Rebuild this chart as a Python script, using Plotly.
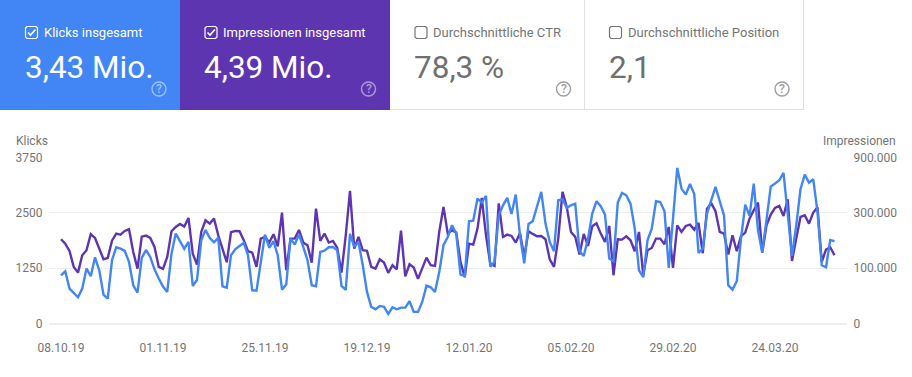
import pandas as pd
import plotly.graph_objects as go

W, H = 912, 377
FONT = "Roboto"
BLUE = "#4285F4"
PURPLE = "#5E35B1"
GREY = "#757575"

start_date = "2019-10-08"
tick_dates = ["2019-10-08", "2019-11-01", "2019-11-25", "2019-12-19", "2020-01-12", "2020-02-05", "2020-02-29", "2020-03-24"]
tick_labels = ["08.10.19", "01.11.19", "25.11.19", "19.12.19", "12.01.20", "05.02.20", "29.02.20", "24.03.20"]
klicks_ticks = [0, 1250, 2500, 3750]
klicks_labels = ["0", "1250", "2500", "3750"]
# the right axis of the original has unevenly stepped labels on evenly spaced gridlines
impressionen_labels = ["0", "100.000", "300.000", "900.000"]

klicks = [1092,1182,791,700,595,791,1242,1069,1498,1205,655,565,1431,1724,1694,1642,1393,866,700,1483,
1664,1506,1227,1017,836,715,1581,2033,1867,1687,1845,851,986,1882,2116,1935,1837,1935,843,813,
1544,1679,1754,1822,1544,753,745,1393,2010,1709,1860,1544,768,881,1920,1785,2010,1732,1431,866,
843,1619,1649,1724,1732,1657,851,761,2026,1732,1845,1318,715,377,324,399,377,218,369,324,
361,361,505,264,264,489,858,821,715,1167,1770,1958,2221,2033,1107,1077,2312,2327,2824,2733,
2884,1288,1393,2447,2673,2839,2477,2914,1995,1363,2251,2312,2673,2974,2259,1845,1634,2786,2809,2613,
2673,2711,1634,1529,1920,2485,2764,2651,2462,1468,1408,2733,2952,2899,2711,2146,1205,1047,1882,2146,
2764,2748,2538,1258,2372,3517,3050,2914,3155,2929,1596,1694,2485,2786,3087,2764,2447,866,768,956,
1920,2688,2432,3163,2108,1604,2372,3095,3163,3238,3404,2507,1529,2221,3035,3366,3185,3260,2523,1318,
1273,1890,1860]

# Impressionen, read as heights on the shared gridlines (same 0-3750 span as the left axis)
impressionen_hoehe = [1905,1807,1642,1280,1152,1544,1657,2018,1935,1694,1453,1483,1875,2033,2010,2093,2131,1619,1242,1965,
1988,1935,1732,1280,1235,1506,2086,2184,2251,2191,2387,1581,1333,2071,2334,2259,2372,1995,1694,1386,
2063,2093,2086,1882,1634,1604,1280,1920,1958,1830,2018,1747,2507,1205,1920,1920,2116,1830,1770,1378,
2598,1867,2033,1830,1867,1709,1152,1995,2997,1694,1958,1657,1642,1280,1242,1453,1378,1145,1318,1227,
2101,1069,1340,1265,1009,1242,1491,1318,1303,2071,2636,2033,2108,2056,1393,1047,1807,1785,2146,2839,
1995,1355,1303,2718,1958,2010,1980,1830,2048,1506,2086,2026,1973,1980,1905,1453,1280,1920,2974,2636,
2071,1958,1559,2026,1754,2199,2267,2033,1845,2206,1092,1905,1898,1973,1882,1634,2071,1092,1657,1709,
1920,1920,1792,2184,1258,2221,2071,2206,2236,2123,2274,1589,2598,2718,2538,2071,2033,1559,1995,1634,
1980,2056,2372,2560,2733,1604,2221,2462,2613,2658,2432,2809,1416,1920,2410,2447,2259,2507,2628,1393,
1672,1724,1544]

card_titles = ["Klicks insgesamt", "Impressionen insgesamt", "Durchschnittliche CTR", "Durchschnittliche Position"]
card_values = ["3,43 Mio.", "4,39 Mio.", "78,3 %", "2,1"]
card_checked = [True, True, False, False]

dates = pd.date_range(start_date, periods=len(klicks), freq="D")


def px(x):
    return x / W


def py(y):
    return 1 - y / H


def P(*pts):
    return "M" + " L".join(f"{px(a):.5f},{py(b):.5f}" for a, b in pts)


fig = go.Figure()
fig.add_trace(go.Scatter(x=dates, y=impressionen_hoehe, mode="lines", yaxis="y", xaxis="x",
                         line=dict(color=PURPLE, width=2.4), name="Impressionen", hoverinfo="skip"))
fig.add_trace(go.Scatter(x=dates, y=klicks, mode="lines", yaxis="y2", xaxis="x",
                         line=dict(color=BLUE, width=2.4), name="Klicks", hoverinfo="skip"))

shapes, ann = [], []


def rect(x0, y0, x1, y1, fill, line=None):
    shapes.append(dict(type="rect", xref="paper", yref="paper", x0=px(x0), x1=px(x1), y0=py(y0), y1=py(y1),
                       fillcolor=fill, line=dict(width=0 if line is None else 1, color=line or fill)))


def text(x, y, s, size, color, anchor="left", weight=400):
    ann.append(dict(xref="paper", yref="paper", x=px(x), y=py(y), text=s, showarrow=False, xanchor=anchor,
                    yanchor="middle", font=dict(family=FONT, size=size, color=color, weight=weight),
                    borderpad=0, borderwidth=0))


# cards
rect(0, 0, 180, 110, BLUE)
rect(180, 0, 390, 110, PURPLE)
shapes.append(dict(type="line", xref="paper", yref="paper", x0=px(390), x1=px(803.5), y0=py(109.5), y1=py(109.5),
                   line=dict(color="#E0E0E0", width=1)))
for xv in (584.5, 803.5):
    shapes.append(dict(type="line", xref="paper", yref="paper", x0=px(xv), x1=px(xv), y0=py(0), y1=py(110),
                       line=dict(color="#E0E0E0", width=1)))

card_x = [25, 204.5, 414.5, 609]
help_x = [159, 368.5, 563.5, 782]
for cx, hx, title, value, chk in zip(card_x, help_x, card_titles, card_values, card_checked):
    col = "#FFFFFF" if chk else GREY
    sc = "#FFFFFF" if chk else "#757575"
    # checkbox
    x0, x1, y0, y1 = cx + 0.5, cx + 12.5, 26.5, 38.5
    r = 1.5
    box = P((x0 + r, y0), (x1 - r, y0), (x1, y0 + r), (x1, y1 - r), (x1 - r, y1), (x0 + r, y1), (x0, y1 - r), (x0, y0 + r)) + " Z"
    shapes.append(dict(type="path", xref="paper", yref="paper", path=box, line=dict(color=sc, width=1.2)))
    if chk:
        shapes.append(dict(type="path", xref="paper", yref="paper",
                           path=P((cx + 3, 32.5), (cx + 5.5, 35), (cx + 10.5, 29.5)),
                           line=dict(color="#FFFFFF", width=1.6)))
    text(cx + 18.5, 32.5, title, 13, col if chk else GREY)
    text(cx - 0.5, 67, value, 31.5, col if chk else "#6F6F6F")
    # help icon
    hc = "rgba(255,255,255,0.5)" if chk else "#9E9E9E"
    shapes.append(dict(type="circle", xref="paper", yref="paper", x0=px(hx - 7), x1=px(hx + 7), y0=py(96), y1=py(82),
                       line=dict(color=hc, width=1.4)))
    text(hx, 89, "?", 12, hc, anchor="center", weight=500)

# axis titles
text(16, 141, "Klicks", 12, GREY)
text(895.5, 141, "Impressionen", 12, GREY, anchor="right")

x_left = pd.Timestamp(start_date) - pd.Timedelta(hours=12 / 4.25 * 24)
x_right = pd.Timestamp(start_date) + pd.Timedelta(hours=(847 - 61) / 4.25 * 24)

fig.update_layout(
    width=W, height=H, margin=dict(l=0, r=0, t=0, b=0, autoexpand=False),
    paper_bgcolor="#FFFFFF", plot_bgcolor="#FFFFFF", showlegend=False,
    font=dict(family=FONT, size=12, color=GREY),
    shapes=shapes, annotations=ann,
    xaxis=dict(domain=[px(49), px(847)], type="date", range=[x_left, x_right], tickmode="array",
               tickvals=tick_dates, ticktext=tick_labels, showgrid=False, zeroline=False, showline=False,
               ticks="outside", ticklen=13, tickcolor="rgba(0,0,0,0)", tickfont=dict(family=FONT, size=12, color=GREY)),
    yaxis=dict(domain=[py(323.6), py(157.6)], range=[0, 3750], side="right", tickmode="array",
               tickvals=klicks_ticks, ticktext=impressionen_labels, showgrid=True, gridcolor="#EEEEEE", gridwidth=1,
               zeroline=True, zerolinecolor="#EEEEEE", showline=False, ticks="outside", ticklen=3,
               tickcolor="rgba(0,0,0,0)", tickfont=dict(family=FONT, size=12, color=GREY)),
    yaxis2=dict(domain=[py(323.6), py(157.6)], range=[0, 3750], side="left", overlaying="y", anchor="x", tickmode="array",
                tickvals=klicks_ticks, ticktext=klicks_labels, showgrid=False, zeroline=False, showline=False,
                ticks="outside", ticklen=3, tickcolor="rgba(0,0,0,0)", tickfont=dict(family=FONT, size=12, color=GREY)),
)

fig.write_html("out.html", config=dict(displayModeBar=False),
               post_script="document.body.style.margin='0';document.documentElement.style.overflow='hidden';")
